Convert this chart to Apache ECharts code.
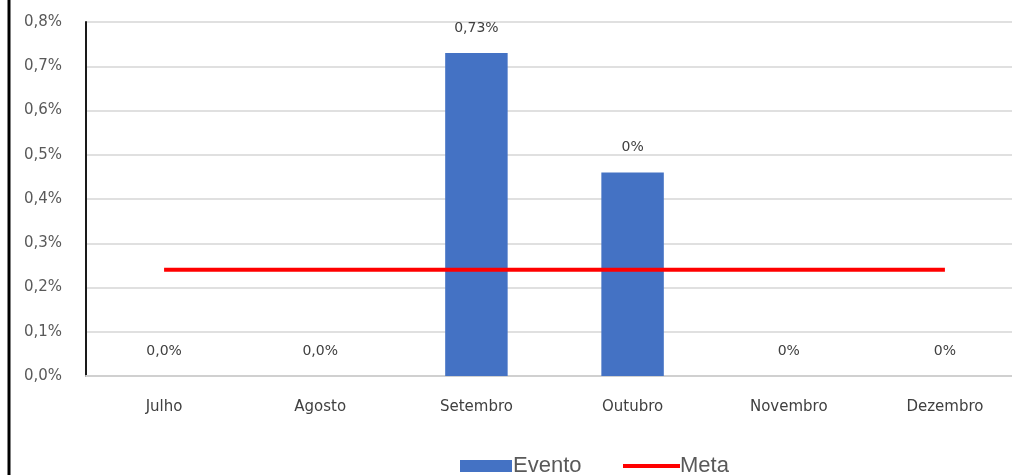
<!DOCTYPE html>
<html>
<head>
<meta charset="utf-8">
<script src="https://cdn.jsdelivr.net/npm/echarts@6/dist/echarts.min.js"></script>
<style>
  html, body { margin: 0; padding: 0; background: #fff; overflow: hidden; }
  /* o gráfico original continua à direita, fora do recorte */
  #chart { width: 1030px; height: 475px; }
</style>
</head>
<body>
<div id="chart"></div>
<script>
// dados
const months = ['Julho', 'Agosto', 'Setembro', 'Outubro', 'Novembro', 'Dezembro']
const evento = [0, 0, 0.73, 0.46, 0, 0]
const eventoLabels = ['0,0%', '0,0%', '0,73%', '0%', '0%', '0%']
const meta = [0.24, 0.24, 0.24, 0.24, 0.24, 0.24]

const chart = echarts.init(document.getElementById('chart'))
const font = 'DejaVu Sans, Liberation Sans, sans-serif'

chart.setOption({
  animation: false,
  textStyle: { fontFamily: font },
  grid: { left: 86, top: 22, width: 937, height: 354, containLabel: false },
  xAxis: {
    type: 'category',
    data: months,
    axisTick: { show: false },
    axisLine: { lineStyle: { color: '#d0d0d0', width: 2 } },
    axisLabel: { color: '#404040', fontSize: 15, margin: 24 }
  },
  yAxis: {
    type: 'value',
    min: 0,
    max: 0.8,
    interval: 0.1,
    axisLine: { show: true, lineStyle: { color: '#1a1a1a', width: 2 } },
    axisTick: { show: false },
    splitLine: { lineStyle: { color: '#e0e0e0', width: 2 } },
    axisLabel: {
      color: '#595959',
      fontSize: 15,
      margin: 24,
      formatter: v => v.toFixed(1).replace('.', ',') + '%'
    }
  },
  legend: [
    {
      left: 460,
      top: 455,
      padding: 0,
      itemWidth: 52,
      itemHeight: 12,
      textStyle: { color: '#595959', fontSize: 22, fontFamily: 'Liberation Sans, sans-serif', padding: [0, 0, 0, -4] },
      data: [{ name: 'Evento', icon: 'rect' }]
    },
    {
      left: 623,
      top: 455,
      padding: 0,
      itemWidth: 57,
      itemHeight: 4,
      textStyle: { color: '#595959', fontSize: 22, fontFamily: 'Liberation Sans, sans-serif', padding: [0, 0, 0, -5] },
      data: [{ name: 'Meta', icon: 'rect' }]
    }
  ],
  graphic: [
    { type: 'line', shape: { x1: 9, y1: 0, x2: 9, y2: 475 }, style: { stroke: '#000', lineWidth: 3 } },
    { type: 'line', shape: { x1: 86, y1: 22, x2: 1030, y2: 22 }, style: { stroke: '#1a1a1a', lineWidth: 2 } }
  ],
  series: [
    {
      name: 'Evento',
      type: 'bar',
      data: evento,
      barWidth: '40%',
      itemStyle: { color: '#4472C4' },
      label: {
        show: true,
        position: 'top',
        distance: 18,
        color: '#404040',
        fontSize: 14,
        formatter: p => eventoLabels[p.dataIndex]
      }
    },
    {
      name: 'Meta',
      type: 'line',
      data: meta,
      symbol: 'none',
      lineStyle: { color: '#ff0000', width: 4 },
      itemStyle: { color: '#ff0000' },
      z: 3
    }
  ]
})
</script>
</body>
</html>
